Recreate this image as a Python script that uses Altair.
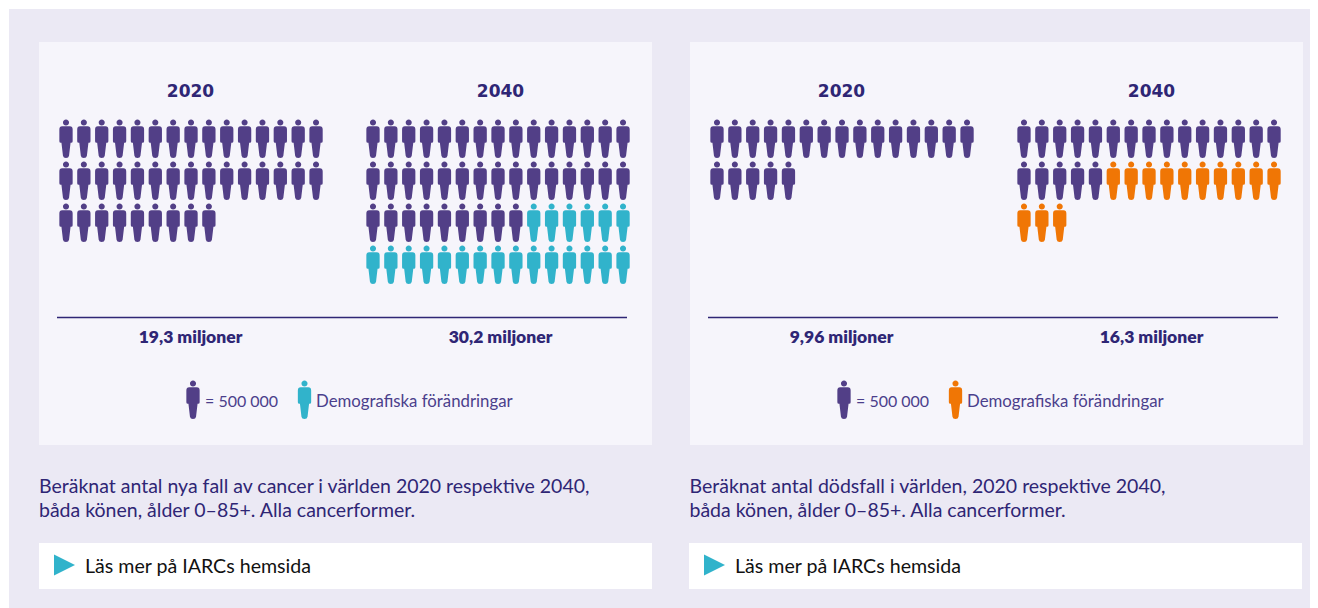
import altair as alt
import pandas as pd

# ---- chart values ----
YEARS = ["2020", "2040"]
CASES_BASE = [39, 39]          # icons, 1 icon = 500 000
CASES_CHANGE = [0, 21]
DEATHS_BASE = [20, 20]
DEATHS_CHANGE = [0, 13]
CASES_LABELS = ["19,3 miljoner", "30,2 miljoner"]
DEATHS_LABELS = ["9,96 miljoner", "16,3 miljoner"]
CAPTION_CASES = ["Beräknat antal nya fall av cancer i världen 2020 respektive 2040,",
                 "båda könen, ålder 0–85+. Alla cancerformer."]
CAPTION_DEATHS = ["Beräknat antal dödsfall i världen, 2020 respektive 2040,",
                  "båda könen, ålder 0–85+. Alla cancerformer."]
LEGEND_UNIT = "= 500 000"
LEGEND_CHANGE = "Demografiska förändringar"
LINK = "Läs mer på IARCs hemsida"

# ---- layout and style ----
PURPLE, TEAL, ORANGE = "#523f87", "#31b3cb", "#f07605"
INK = "#2f2675"
PER_ROW, COL_STEP, ROW_STEP, ROW0 = 15, 17.86, 42, 139
PANEL_X = [39, 690]
ICON_X = [[66, 373], [717, 1024]]
YEAR_X = [[190.5, 500.5], [841.5, 1151.5]]
PERSON = ("M-0.16,-0.87a0.16,0.16 0 1,0 0.32,0a0.16,0.16 0 1,0 -0.32,0Z"
          "M-0.2,-0.67L0.2,-0.67Q0.35,-0.67 0.35,-0.5L0.35,0.12Q0.35,0.2 0.27,0.2L0.24,0.2"
          "L0.16,0.88Q0.14,1 0,1Q-0.14,1 -0.16,0.88L-0.24,0.2L-0.27,0.2Q-0.35,0.2 -0.35,0.12"
          "L-0.35,-0.5Q-0.35,-0.67 -0.2,-0.67Z")
TRI = "M-1,-1L1,0L-1,1Z"

xs = alt.Scale(domain=[8, 1310], nice=False, zero=False)
ys = alt.Scale(domain=[608, 8], nice=False, zero=False)
X = alt.X("x:Q", scale=xs, axis=None)
Y = alt.Y("y:Q", scale=ys, axis=None)


def rects(rows, color):
    df = pd.DataFrame(rows, columns=["x", "x2", "y", "y2"])
    return alt.Chart(df).mark_rect(color=color).encode(x=X, x2="x2:Q", y=Y, y2="y2:Q")


def text(rows, font, size, weight, color, align="left"):
    df = pd.DataFrame(rows, columns=["x", "y", "t"])
    return alt.Chart(df).mark_text(font=font, fontSize=size, fontWeight=weight, color=color,
                                   align=align, baseline="middle").encode(x=X, y=Y, text="t:N")


icons = []
for p, (base, change) in enumerate([(CASES_BASE, CASES_CHANGE), (DEATHS_BASE, DEATHS_CHANGE)]):
    for k in range(2):
        for i in range(base[k] + change[k]):
            icons.append({
                "x": ICON_X[p][k] + (i % PER_ROW) * COL_STEP,
                "y": ROW0 + (i // PER_ROW) * ROW_STEP,
                "c": "base" if i < base[k] else ("teal" if p == 0 else "orange"),
            })
for p, col in enumerate(["teal", "orange"]):
    icons.append({"x": PANEL_X[p] + 154, "y": 400, "c": "base"})
    icons.append({"x": PANEL_X[p] + 265.5, "y": 400, "c": col})

color = alt.Color("c:N", legend=None,
                  scale=alt.Scale(domain=["base", "teal", "orange"], range=[PURPLE, TEAL, ORANGE]))
people = alt.Chart(pd.DataFrame(icons)).mark_point(
    shape=PERSON, size=1444, filled=True, opacity=1, strokeWidth=0
).encode(x=X, y=Y, color=color)

tri = alt.Chart(pd.DataFrame({"x": [x + 25.5 for x in (39, 689)], "y": [565, 565]})).mark_point(
    shape=TRI, size=441, filled=True, opacity=1, strokeWidth=0, color=TEAL
).encode(x=X, y=Y)

rules = alt.Chart(pd.DataFrame({"x": [57, 708], "x2": [627, 1278], "y": [317.5, 317.5]})).mark_rule(
    color=INK, strokeWidth=1.3
).encode(x=X, x2="x2:Q", y=Y)

years = text([(YEAR_X[p][k], 91.5, YEARS[k]) for p in range(2) for k in range(2)],
             "DejaVu Sans", 17, 700, INK, "center")
values = text([(YEAR_X[p][k], 338, [CASES_LABELS, DEATHS_LABELS][p][k]) for p in range(2) for k in range(2)],
              "Lato", 17.5, 800, INK, "center")
legend_unit = text([(x, 402, LEGEND_UNIT) for x in (205, 856)], "Lato", 16, 400, "#4b3f8c")
legend_change = text([(x, 402, LEGEND_CHANGE) for x in (316, 967)], "Lato", 16.8, 400, "#4b3f8c")
captions = text([(39, 487, CAPTION_CASES[0]), (39, 511, CAPTION_CASES[1]),
                 (689.5, 487, CAPTION_DEATHS[0]), (689.5, 511, CAPTION_DEATHS[1])],
                "Lato", 19.5, 400, INK)
links = text([(85, 566.5, LINK), (735, 566.5, LINK)], "Lato", 19.6, 400, "#111111")

chart = alt.layer(
    rects([(9, 1310, 9, 608)], "#ebe9f4"),
    rects([(39, 652, 42, 445), (690, 1303, 42, 445)], "#f6f5fb"),
    rects([(39, 652, 543, 589), (689, 1302, 543, 589)], "#ffffff"),
    rules, people, tri, years, values, legend_unit, legend_change, captions, links,
).properties(width=1302, height=600, padding=0, autosize=alt.AutoSizeParams(type="none"),
             background="#ffffff").configure_view(stroke=None)

chart.save("out.html", embed_options={"renderer": "svg", "actions": False})
